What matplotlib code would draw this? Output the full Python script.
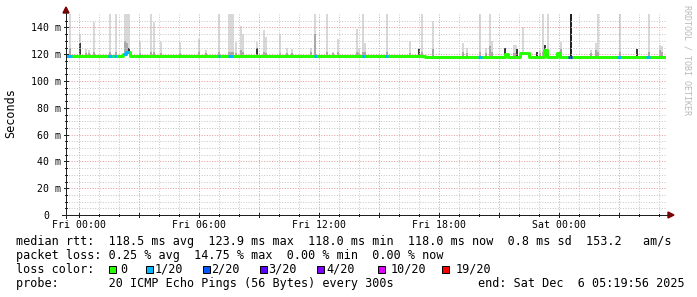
import numpy as np
import matplotlib
matplotlib.use('Agg')
import matplotlib.pyplot as plt
from matplotlib.lines import Line2D
from matplotlib.patches import Rectangle, Polygon
from matplotlib import transforms

# ---------------- data ----------------
T_START, T_END = -2/3, 29 + 1/3          # hours relative to Fri 00:00
xtick_hours = [0, 6, 12, 18, 24]
xtick_labels = ["Fri 00:00", "Fri 06:00", "Fri 12:00", "Fri 18:00", "Sat 00:00"]
ytick_ms = [0, 20, 40, 60, 80, 100, 120, 140]
ytick_labels = ["0  ", "20 m", "40 m", "60 m", "80 m", "100 m", "120 m", "140 m"]

# median rtt (ms), step changes at given hours
median_hours = [T_START, 2.2, 2.35, 2.55, 8.25, 8.95, 12.9, 13.2, 17.3, 21.3, 21.45,
                22.05, 22.5, 23.25, 23.4, 23.9, 24.05]
median_ms = [119.0, 120.0, 121.5, 119.0, 118.6, 119.0, 118.6, 119.0, 118.2, 120.3, 118.2,
             121.0, 118.2, 123.5, 118.2, 121.0, 118.0]

# intervals with packet loss (hours) and lost pings out of 20
loss_start = [-0.65, 1.45, 1.75, 2.2, 6.95, 7.45, 11.75, 14.15, 15.3, 19.95, 24.45, 24.55, 26.9, 28.35]
loss_end = [-0.35, 1.65, 1.9, 2.5, 7.05, 7.7, 11.9, 14.3, 15.45, 20.15, 24.55, 24.65, 27.1, 28.55]
loss_count = [1, 1, 1, 1, 1, 1, 1, 1, 1, 1, 2, 3, 1, 1]

# smoke: per 5-min interval max ping, upper band, darkness (0 light, 1 dark core, 2 black)
smoke_hours = [-0.45, 0.05, 0.35, 0.5, 0.75, 1.55, 1.85, 2.3, 2.4, 2.5, 3.05, 3.6, 3.75, 4.1,
               5.05, 6.0, 6.35, 7.0, 7.5, 7.6, 7.7, 7.85, 8.1, 8.2, 8.9, 9.25, 9.35, 10.05,
               10.4, 10.65, 11.6, 11.8, 12.4, 12.7, 12.95, 13.9, 14.0, 14.2, 14.3, 15.4,
               16.55, 17.0, 17.15, 17.7, 19.2, 19.4, 20.05, 20.35, 20.55, 20.65, 21.3, 21.75,
               21.85, 21.9, 22.2, 22.45, 22.9, 23.05, 23.2, 23.3, 23.45, 23.95, 24.1, 24.6,
               25.6, 25.85, 25.95, 27.05, 27.9, 28.5, 29.05, 29.15]
smoke_max = [155, 135, 124, 123, 144, 155, 155, 155, 155, 155, 130, 155, 144, 129,
             129, 131, 123, 155, 155, 155, 155, 129, 141, 135, 129, 138, 133, 135,
             125, 124, 125, 155, 155, 122, 131, 139, 124, 155, 128, 155,
             130, 125, 155, 145, 128, 125, 155, 125, 155, 130, 125, 127,
             127, 124, 140, 122, 122, 123, 155, 127, 155, 122, 129, 155,
             123, 128, 155, 155, 124, 155, 127, 126]
smoke_upper = [125, 128, 121, 121, 122, 122, 122, 130, 128, 125, 121, 122, 122, 121,
               121, 122, 121, 122, 122, 122, 122, 121, 123, 122, 125, 122, 121, 121,
               121, 121, 122, 135, 122, 121, 122, 122, 121, 122, 122, 122,
               121, 124, 122, 124, 122, 121, 122, 121, 126, 122, 125, 121,
               121, 124, 122, 122, 122, 121, 122, 127, 122, 122, 124, 155,
               121, 123, 122, 122, 124, 122, 123, 122]
smoke_dark = [0, 1, 0, 0, 0, 0, 0, 0, 0, 1, 0, 0, 0, 0,
              0, 0, 0, 0, 0, 0, 0, 0, 0, 0, 1, 0, 0, 0,
              0, 0, 0, 0, 0, 0, 0, 0, 0, 0, 0, 0,
              0, 1, 0, 0, 0, 0, 0, 0, 0, 0, 1, 0,
              0, 1, 0, 1, 1, 0, 0, 1, 0, 1, 0, 2,
              0, 0, 0, 0, 1, 0, 0, 0]

loss_levels = [0, 1, 2, 3, 4, 10, 19]
loss_names = ["0", "1/20", "2/20", "3/20", "4/20", "10/20", "19/20"]
loss_colors = ["#26ff00", "#00b8ff", "#0059ff", "#5e00ff", "#7e00ff", "#dd00ff", "#ff0000"]

stats_line = "median rtt:  118.5 ms avg  123.9 ms max  118.0 ms min  118.0 ms now  0.8 ms sd  153.2   am/s"
loss_line = "packet loss: 0.25 % avg  14.75 % max  0.00 % min  0.00 % now"
probe_line = "probe:       20 ICMP Echo Pings (56 Bytes) every 300s"
end_line = "end: Sat Dec  6 05:19:56 2025"

# ---------------- figure ----------------
W, H = 697, 297
fig = plt.figure(figsize=(W / 100, H / 100), dpi=100)
fig.patch.set_facecolor("white")
MONO = "DejaVu Sans Mono"

def fx(x):
    return x / W

def fy(y):
    return 1 - y / H

ax_left, ax_right, ax_top, ax_bot = 66, 666, 14, 215
ax = fig.add_axes([fx(ax_left), fy(ax_bot), (ax_right - ax_left) / W, (ax_bot - ax_top) / H])
ax.set_xlim(T_START, T_END)
ax.set_ylim(0, 150)
ax.set_facecolor("white")
for s in ax.spines.values():
    s.set_visible(False)
ax.set_xticks([])
ax.set_yticks([])

px = 0.72  # one pixel in points

# grid (dotted)
dot = (0, (1, 1.6))
for v in np.arange(5, 150, 5):
    major = (v % 20 == 0)
    ax.axhline(v, color="#e49a9a" if major else "#c6c6c6", lw=px, ls=dot, zorder=3)
for h in np.arange(0, 30, 1):
    major = (h % 3 == 0)
    ax.axvline(h, color="#e49a9a" if major else "#c6c6c6", lw=px, ls=dot, zorder=3)

mh = np.array(median_hours)
mv = np.array(median_ms)

def median_at(t):
    i = np.searchsorted(mh, t, side="right") - 1
    return mv[max(i, 0)]

# smoke
bw = 0.1
for t, mx, up, dk in zip(smoke_hours, smoke_max, smoke_upper, smoke_dark):
    base = median_at(t)
    if dk == 2:
        ax.bar(t, mx - base, bottom=base, width=bw, color="#222222", lw=0, zorder=2,
               antialiased=False)
        continue
    ax.bar(t, mx - base, bottom=base, width=bw, color="#d8d8d8", lw=0, zorder=2,
           antialiased=False)
    ax.bar(t, up - base, bottom=base, width=bw,
           color="#3a3a3a" if dk == 1 else "#a8a8a8", lw=0, zorder=2, antialiased=False)

# median line (green = no loss)
lw_med = 3 * px
ax.plot(list(mh) + [T_END], list(mv) + [mv[-1]], drawstyle="steps-post",
        color=loss_colors[0], lw=lw_med, solid_capstyle="butt", zorder=5)
for s, e, c in zip(loss_start, loss_end, loss_count):
    inside = [t for t in mh if s < t < e]
    ts = [s] + inside + [e]
    vs = [median_at(t) for t in ts[:-1]] + [median_at(ts[-2])]
    col = loss_colors[max(i for i, l in enumerate(loss_levels) if l <= c)]
    ax.plot(ts, vs, drawstyle="steps-post", color=col, lw=lw_med,
            solid_capstyle="butt", zorder=6)

# axes lines, ticks, arrows (figure pixel coords)
def fline(x0, y0, x1, y1, color="#202020", lw=px):
    fig.add_artist(Line2D([fx(x0), fx(x1)], [fy(y0), fy(y1)], color=color, lw=lw,
                          transform=fig.transFigure, antialiased=False))

fline(62, 215, 668, 215)
fline(66, 218, 66, 12)
arrow_col = "#7f0000"
fig.add_artist(Polygon([[fx(63), fy(13)], [fx(69), fy(13)], [fx(66), fy(7)]], closed=True,
                       color=arrow_col, transform=fig.transFigure))
fig.add_artist(Polygon([[fx(668), fy(212)], [fx(668), fy(218)], [fx(674), fy(215)]], closed=True,
                       color=arrow_col, transform=fig.transFigure))

# tick marks
bt = transforms.blended_transform_factory(fig.transFigure, ax.transData)
for v in np.arange(5, 150, 5):
    ln = 2 if v % 20 == 0 else 1
    fig.add_artist(Line2D([fx(66 - ln), fx(66 + ln)], [v, v], color="#202020", lw=px,
                          transform=bt, antialiased=False))
bx = transforms.blended_transform_factory(ax.transData, fig.transFigure)
for h in np.arange(0, 30, 1):
    ln = 2 if h % 3 == 0 else 1
    fig.add_artist(Line2D([h, h], [fy(215 - ln), fy(215 + ln)], color="#202020", lw=px,
                          transform=bx, antialiased=False))

# tick labels
tick_fs = 7.1
cw_tick = 0.602 * tick_fs * 100 / 72
for v, lab in zip(ytick_ms, ytick_labels):
    fig.text(fx(60.7 - len(lab) * cw_tick), v, lab.rstrip(), transform=bt, fontsize=tick_fs,
             family=MONO, ha="left", va="center_baseline", color="black")
for h, lab in zip(xtick_hours, xtick_labels):
    fig.text(h, fy(228), lab, transform=bx, fontsize=tick_fs, family=MONO,
             ha="center", va="baseline", color="black")

# axis title and watermark
fs = 8.45
fig.text(fx(11), fy(113), "Seconds", rotation=90, fontsize=fs, family=MONO,
         ha="center", va="center", color="black")
fig.text(fx(687), fy(60), "RRDTOOL / TOBI OETIKER", rotation=-90, fontsize=6.0, family=MONO,
         ha="center", va="center", color="#b8b8b8")

# legend / stats rows
fig.text(fx(16), fy(245), stats_line, fontsize=fs, family=MONO, ha="left", va="baseline")
fig.text(fx(16), fy(259), loss_line, fontsize=fs, family=MONO, ha="left", va="baseline")
fig.text(fx(16), fy(273), "loss color:", fontsize=fs, family=MONO, ha="left", va="baseline")
sw_x = [109, 146, 203, 260, 317, 378, 442]
lab_x = [120, 155, 211, 268, 326, 391, 456]
for sx, lx, name, col in zip(sw_x, lab_x, loss_names, loss_colors):
    fig.add_artist(Rectangle((fx(sx), fy(272.5)), 7 / W, 7 / H, facecolor=col,
                             edgecolor="black", lw=px, transform=fig.transFigure))
    fig.text(fx(lx), fy(273), name, fontsize=fs, family=MONO, ha="left", va="baseline")
fig.text(fx(16), fy(287), probe_line, fontsize=fs, family=MONO, ha="left", va="baseline")
fig.text(fx(478), fy(287), end_line, fontsize=fs, family=MONO, ha="left", va="baseline")

fig.savefig("out.png", dpi=100, facecolor="white")
